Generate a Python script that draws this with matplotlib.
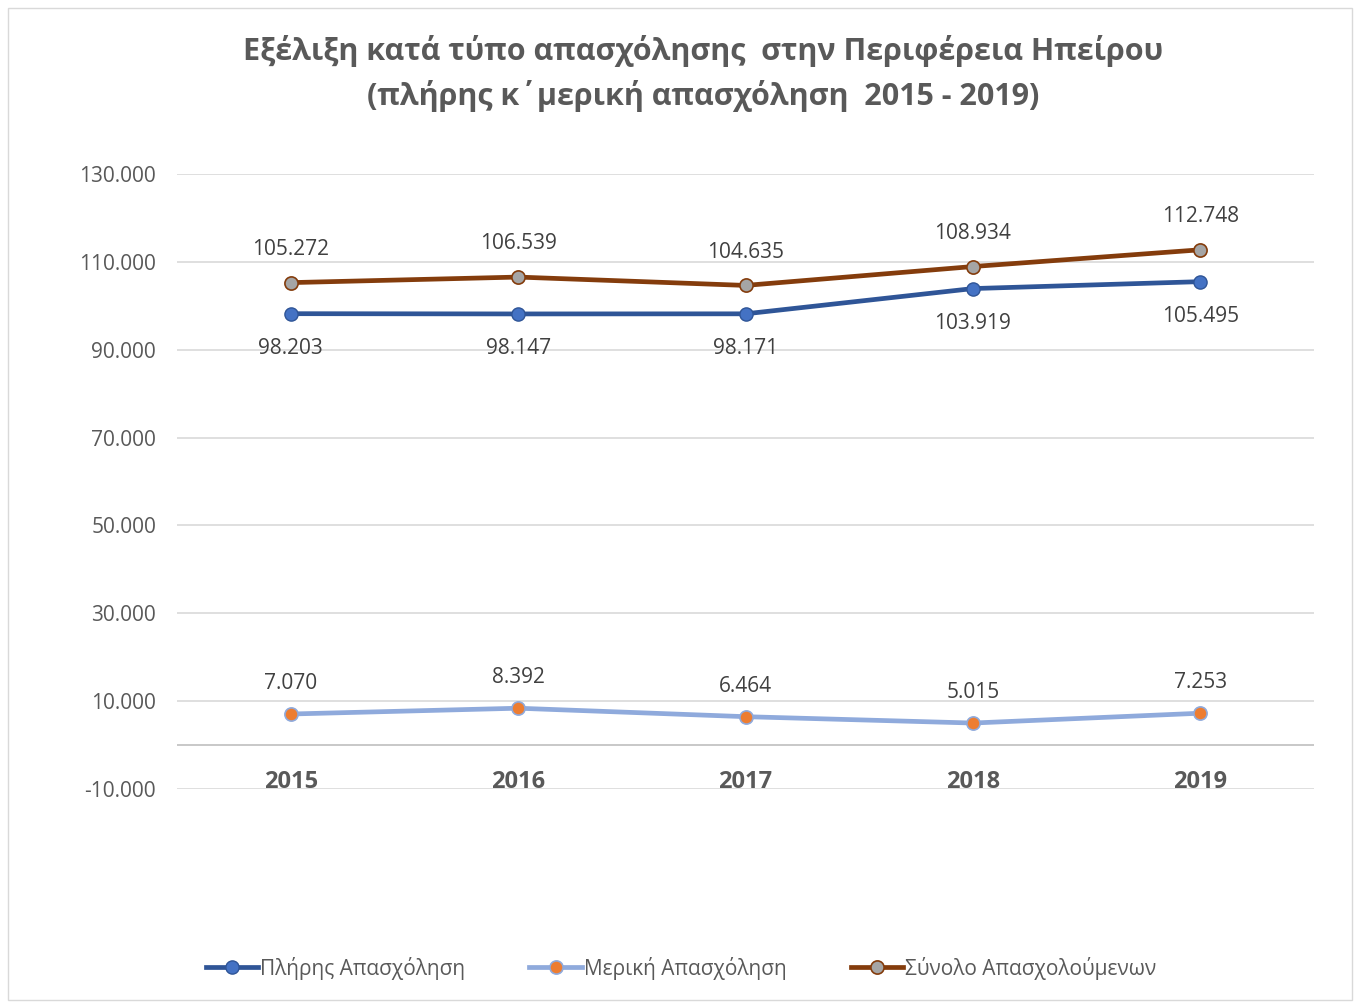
import matplotlib.pyplot as plt
from matplotlib.patches import Rectangle
from matplotlib.ticker import FuncFormatter

plt.rcParams['font.family'] = ['Open Sans', 'DejaVu Sans']

# data
years = ['2015', '2016', '2017', '2018', '2019']
full_time = [98203, 98147, 98171, 103919, 105495]
part_time = [7070, 8392, 6464, 5015, 7253]
total = [105272, 106539, 104635, 108934, 112748]

text_col = '#595959'
grid_col = '#d9d9d9'

fig = plt.figure(figsize=(13.57, 10.02), dpi=100)
ax = fig.add_axes([177 / 1357, 1 - 789 / 1002, 1137 / 1357, 615 / 1002])

# frame around the whole chart
fig.patches.append(Rectangle((8 / 1357, 2 / 1002), 1344 / 1357, 992 / 1002,
                             transform=fig.transFigure, fill=False,
                             edgecolor='#d9d9d9', lw=1))

x = list(range(len(years)))

ax.plot(x, full_time, color='#2f5597', lw=3.4, marker='o', ms=9.5,
        mfc='#4472c4', mec='#2f5597', mew=1, label='Πλήρης Απασχόληση', zorder=4)
ax.plot(x, part_time, color='#8faadc', lw=3.4, marker='o', ms=9.5,
        mfc='#ed7d31', mec='#8faadc', mew=1.2, label='Μερική Απασχόληση', zorder=4)
ax.plot(x, total, color='#843c0c', lw=3.4, marker='o', ms=9.5,
        mfc='#a5a5a5', mec='#843c0c', mew=1.2, label='Σύνολο Απασχολούμενων', zorder=4)


def fmt(v):
    return f'{v:,.0f}'.replace(',', '.')


for i in x:
    ax.annotate(fmt(total[i]), (i, total[i]), xytext=(0, 24), textcoords='offset points',
                ha='center', va='center', fontsize=15, color='#404040')
    ax.annotate(fmt(full_time[i]), (i, full_time[i]), xytext=(0, -25), textcoords='offset points',
                ha='center', va='center', fontsize=15, color='#404040')
    ax.annotate(fmt(part_time[i]), (i, part_time[i]), xytext=(0, 22), textcoords='offset points',
                ha='center', va='center', fontsize=15, color='#404040')
    # year labels sit just below the zero line
    ax.text(i, -8300, years[i], ha='center', va='center', fontsize=17,
            fontweight='bold', color=text_col)

ax.set_xlim(-0.5, 4.5)
ax.set_ylim(-10000, 130000)
ax.set_yticks(range(-10000, 130001, 20000))
ax.yaxis.set_major_formatter(FuncFormatter(lambda v, p: fmt(v)))
ax.set_xticks([])
ax.tick_params(axis='y', length=0, pad=15, labelsize=15, labelcolor=text_col)
ax.grid(axis='y', color=grid_col, lw=1.2)
ax.axhline(0, color='#bfbfbf', lw=1.2, zorder=1)
for s in ax.spines.values():
    s.set_visible(False)
ax.set_axisbelow(True)

fig.text(703 / 1357, 1 - 51 / 1002, 'Εξέλιξη κατά τύπο απασχόλησης  στην Περιφέρεια Ηπείρου',
         ha='center', va='center', fontsize=22, fontweight='bold', color=text_col)
fig.text(703 / 1357, 1 - 96 / 1002, '(πλήρης κ΄μερική απασχόληση  2015 - 2019)',
         ha='center', va='center', fontsize=22, fontweight='bold', color=text_col)

leg = fig.legend(loc='center', bbox_to_anchor=(681 / 1357, 1 - 968 / 1002), ncol=3,
                 frameon=False, fontsize=15, handlelength=2.5, handletextpad=0.1,
                 columnspacing=3.1)
for t in leg.get_texts():
    t.set_color(text_col)

fig.savefig('out.png', dpi=100)
